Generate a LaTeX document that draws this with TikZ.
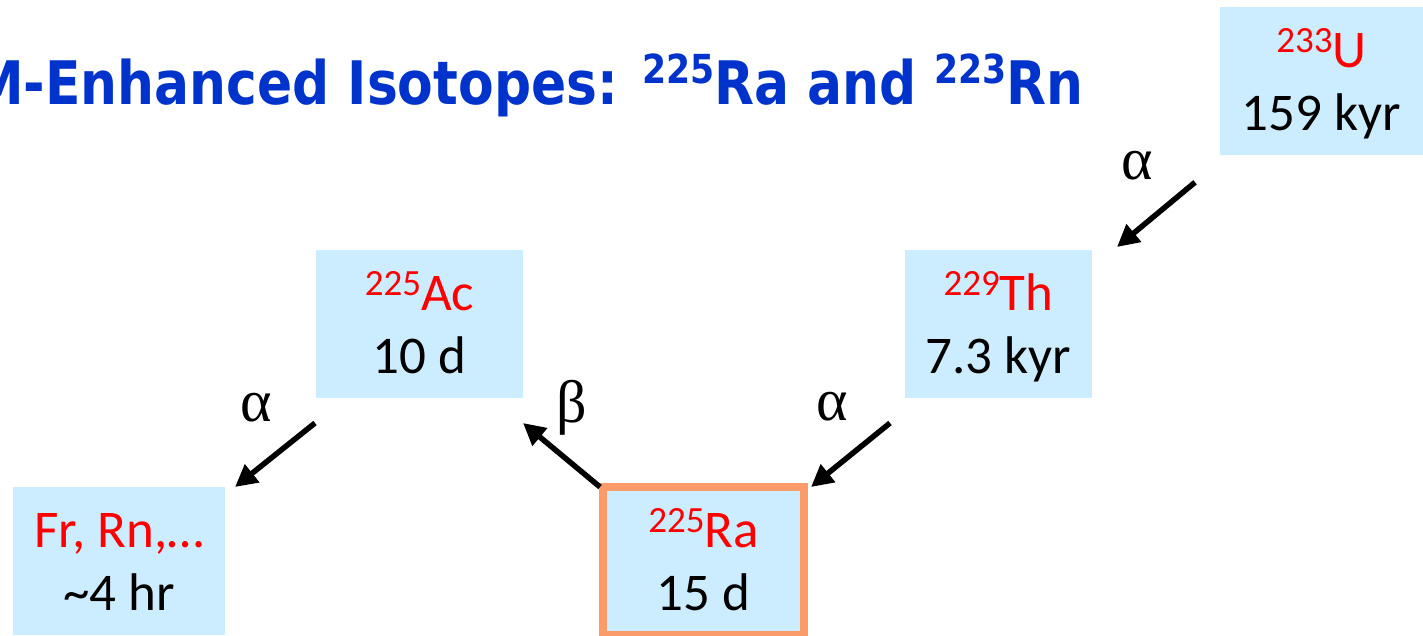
\documentclass[tikz,border=0pt]{standalone}
\usepackage{fontspec}
\setmainfont{Carlito}
\newfontfamily\titlefont{DejaVu Sans}
\newfontfamily\greekfont{Liberation Serif}
\usetikzlibrary{arrows.meta}

\definecolor{boxblue}{RGB}{204,236,255}
\definecolor{titleblue}{RGB}{0,51,204}
\definecolor{raorange}{RGB}{250,155,105}
\definecolor{isored}{RGB}{255,0,0}

% nuclide symbol with its mass number as a superscript
\newcommand\nuc[2]{{\color{isored}\raisebox{15pt}{\fontsize{37}{37}\selectfont #1}#2}}
% superscript mass number in the heading
\newcommand\tsup[1]{\raisebox{21pt}{\fontsize{40}{40}\selectfont #1}}
% fixed struts so every two-line box sets its baselines alike
\newcommand\topstrut{\rule{0pt}{45pt}}
\newcommand\botstrut{\rule[-10pt]{0pt}{10pt}}

\tikzset{
  box/.style={rectangle, fill=boxblue, inner sep=0pt, outer sep=0pt,
    minimum height=148pt, align=center, text=black,
    font=\fontsize{53}{63}\selectfont},
  rabox/.style={box, draw=raorange, line width=8pt, outer sep=4pt},
  decay/.style={line width=5.5pt, -{Triangle[length=22pt,width=22pt]}},
  mode/.style={font=\greekfont\fontsize{60}{60}\selectfont, inner sep=0pt},
}

\begin{document}
\begin{tikzpicture}[x=1pt,y=-1pt]
\useasboundingbox (0,0) rectangle (1423,636);

% heading
\node[anchor=base east, inner sep=0pt, text=titleblue,
      font=\titlefont\bfseries\fontsize{60}{60}\selectfont] (title) at (1084,105)
  {\scalebox{0.865}[1]{M-Enhanced Isotopes: \tsup{225}Ra and \tsup{223}Rn}};

% decay chain members
\node[box, minimum width=203pt] (U)  at (1321.5,81.3) {\topstrut\nuc{233}{U}\\159 kyr\botstrut};
\node[box, minimum width=187pt] (Th) at (998.5,324)  {\topstrut\nuc{229}{Th}\\7.3 kyr\botstrut};
\node[box, minimum width=207pt] (Ac) at (419.5,324)  {\topstrut\nuc{225}{Ac}\\10 d\botstrut};
\node[rabox, minimum width=201pt] (Ra) at (703.5,561) {\topstrut\nuc{225}{Ra}\\15 d\botstrut};
\node[box, minimum width=212pt] (Fr) at (119,561)    {\topstrut{\color{isored}Fr, Rn,…}\\\textasciitilde 4 hr\botstrut};

% arrow ends, set just off the box corners
\coordinate (uth0)  at ([shift={(-25,27)}]U.south west);
\coordinate (uth1)  at ([shift={(25,-3)}]Th.north east);
\coordinate (thra0) at ([shift={(-15,25)}]Th.south west);
\coordinate (thra1) at ([shift={(3,4)}]Ra.north east);
\coordinate (raac0) at ([shift={(1,4)}]Ra.north west);
\coordinate (raac1) at ([shift={(0,25)}]Ac.south east);
\coordinate (acfr0) at ([shift={(-1,25)}]Ac.south west);
\coordinate (acfr1) at ([shift={(10,0)}]Fr.north east);

\draw[decay] (uth0)  -- (uth1);
\draw[decay] (thra0) -- (thra1);
\draw[decay] (raac0) -- (raac1);
\draw[decay] (acfr0) -- (acfr1);

% decay modes
\node[mode] (m1) at (1137,166) {α};
\node[mode] (m2) at (832,407)  {α};
\node[mode] (m3) at (572,408)  {β};
\node[mode] (m4) at (256,408)  {α};
\end{tikzpicture}
\end{document}
